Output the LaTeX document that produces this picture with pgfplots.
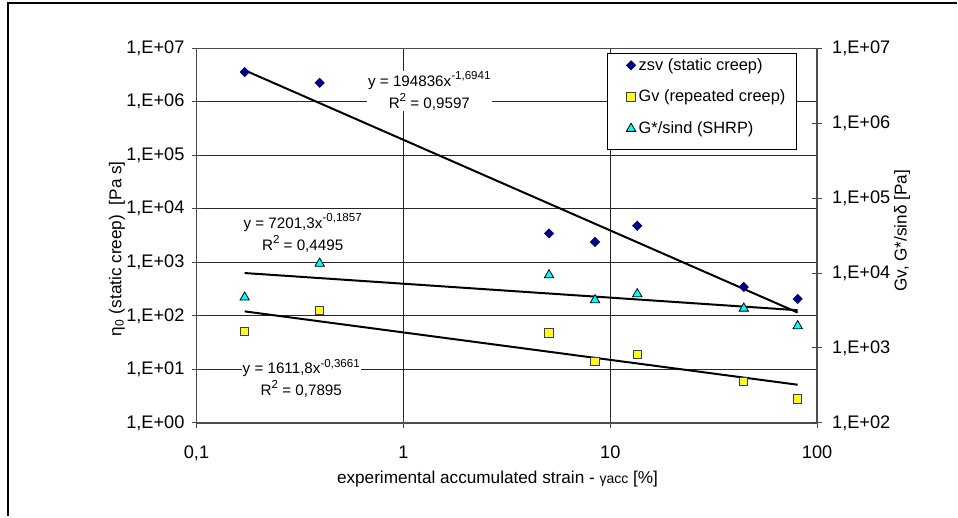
\documentclass[border=0pt]{standalone}
\usepackage{fontspec}
\setmainfont{Liberation Sans}
\usepackage{pgfplots}
\usepackage{pgfplotstable}
\pgfplotsset{compat=1.18}

\definecolor{zsvblue}{HTML}{000080}
\definecolor{gvyellow}{HTML}{FFFF00}
\definecolor{gvedge}{HTML}{333399}
\definecolor{gcyan}{HTML}{00FFFF}

\newcommand\ticklblfont{\fontsize{9.1}{10}\selectfont}
\newcommand\axlblfont{\fontsize{8.6}{10}\selectfont}
\newcommand\eqnfont{\fontsize{7.6}{10.8}\selectfont}
\newcommand\eqsup[1]{\raisebox{0.85ex}{\fontsize{5.8}{6}\selectfont #1}}

% measured points (x = accumulated strain in %)
\pgfplotstableread{
x y
0.171 3.59e6
0.394 2.26e6
5.06 3470
8.44 2400
13.5 4830
44.2 347
80.5 207
}\zsvdata
\pgfplotstableread{
x y
0.171 1650
0.394 3170
5.06 1585
8.44 657
13.5 822
44.2 356
80.5 209
}\gvdata
\pgfplotstableread{
x y
0.171 4730
0.394 13400
5.06 9400
8.44 4370
13.5 5250
44.2 3370
80.5 1965
}\gstardata

\begin{document}
\begin{tikzpicture}
% left axis: static creep viscosity
\begin{axis}[
  scale only axis, width=310.65pt, height=187.5pt,
  xmode=log, ymode=log, xmin=0.1, xmax=100, ymin=1, ymax=1e7,
  xminorticks=false, yminorticks=false,
  tick align=center, major tick length=5pt,
  tick style={black!75, line width=0.5pt},
  axis line style={black!70, line width=0.75pt},
  tick label style={font=\ticklblfont},
  xticklabel style={yshift=-5.5pt},
  clip=false,
  xtick pos=bottom, ytick pos=left,
  xtick={0.1,1,10,100}, xticklabels={{0,1},1,10,100},
  ytick={1,10,100,1000,10000,100000,1000000,10000000},
  yticklabels={{1,E+00},{1,E+01},{1,E+02},{1,E+03},{1,E+04},{1,E+05},{1,E+06},{1,E+07}},
  xmajorgrids, ymajorgrids,
  grid style={black!85, line width=0.5pt},
  xlabel={experimental accumulated strain - {\fontsize{7}{8}\selectfont γacc} [\%]},
  xlabel style={font=\axlblfont, at={(axis description cs:0.485,-0.151)}, anchor=center},
  ylabel={η\textsubscript{0} (static creep)\ \ [Pa s]},
  ylabel style={font=\axlblfont, at={(axis description cs:-0.128,0.465)}, anchor=center},
]
\addplot[only marks, mark=square*, mark size=1.6pt,
  mark options={rotate=45, fill=zsvblue, draw=zsvblue}] table {\zsvdata};
\addplot[black, line width=1pt] coordinates {(0.171,3.88e6) (80.5,115.2)};
\node[fill=white, inner sep=0.5pt, align=center, font=\eqnfont]
  at (axis cs:1.335,1.6e6) {y = 194836x\eqsup{-1,6941}\\R\eqsup{2} = 0,9597};
\end{axis}

% right axis: Gv and G*/sin(delta)
\begin{axis}[
  scale only axis, width=310.65pt, height=187.5pt,
  xmode=log, ymode=log, xmin=0.1, xmax=100, ymin=100, ymax=1e7,
  xminorticks=false, yminorticks=false,
  tick align=center, major tick length=5pt,
  tick style={black!75, line width=0.5pt},
  axis line style={black!70, line width=0.75pt},
  tick label style={font=\ticklblfont},
  yticklabel style={xshift=1.5pt},
  clip=false,
  hide x axis,
  ytick pos=right, yticklabel pos=right,
  ytick={100,1000,10000,100000,1000000,10000000},
  yticklabels={{1,E+02},{1,E+03},{1,E+04},{1,E+05},{1,E+06},{1,E+07}},
  ylabel={Gv, G*/sinδ [Pa]},
  ylabel style={font=\axlblfont, at={(axis description cs:1.137,0.513)}, anchor=center},
  legend style={at={(rel axis cs:0.692,0.9835)}, anchor=north west,
    draw=none, fill=none, inner sep=0pt, row sep=5.35pt, font=\fontsize{8.2}{10}\selectfont,
    nodes={inner xsep=1.5pt, inner ysep=1pt, text height=6.6pt, text depth=1.9pt},
    cells={anchor=west}},
  legend image code/.code={\draw[mark repeat=2,mark phase=2,#1]
    plot coordinates {(0cm,0cm) (0.15cm,0cm) (0.4cm,0cm)};},
]
\addlegendimage{only marks, mark=square*, mark size=1.6pt,
  mark options={rotate=45, fill=zsvblue, draw=zsvblue}}
\addlegendentry{zsv (static creep)}
\addplot[only marks, mark=square*, mark size=2.1pt,
  mark options={fill=gvyellow, draw=gvedge, line width=0.5pt}] table {\gvdata};
\addlegendentry{Gv (repeated creep)}
\addplot[only marks, mark=triangle*, mark size=2.7pt,
  mark options={fill=gcyan, draw=black, line width=0.4pt}] table {\gstardata};
\addlegendentry{G*/sind (SHRP)}
\addplot[black, line width=1pt, forget plot] coordinates {(0.171,9995) (80.5,3188)};
\addplot[black, line width=1pt, forget plot] coordinates {(0.171,3077) (80.5,323)};
\node[fill=white, inner sep=0.5pt, align=center, font=\eqnfont]
  at (axis cs:0.326,34400) {y = 7201,3x\eqsup{-0,1857}\\R\eqsup{2} = 0,4495};
\node[fill=white, inner sep=0.5pt, align=center, font=\eqnfont]
  at (axis cs:0.321,395) {y = 1611,8x\eqsup{-0,3661}\\R\eqsup{2} = 0,7895};
\draw[fill=white, line width=0.5pt]
  (rel axis cs:0.662,0.7288) rectangle (rel axis cs:0.9662,0.9848);
% chart frame (left and top edges only) and page extent
\draw[line width=1pt] (rel axis cs:-0.3029,-0.2499) -- (rel axis cs:-0.3029,1.1208)
  -- (rel axis cs:1.2253,1.1208);
\path (rel axis cs:-0.3166,-0.2499) rectangle (rel axis cs:1.2253,1.1288);
\end{axis}
\end{tikzpicture}
\end{document}
